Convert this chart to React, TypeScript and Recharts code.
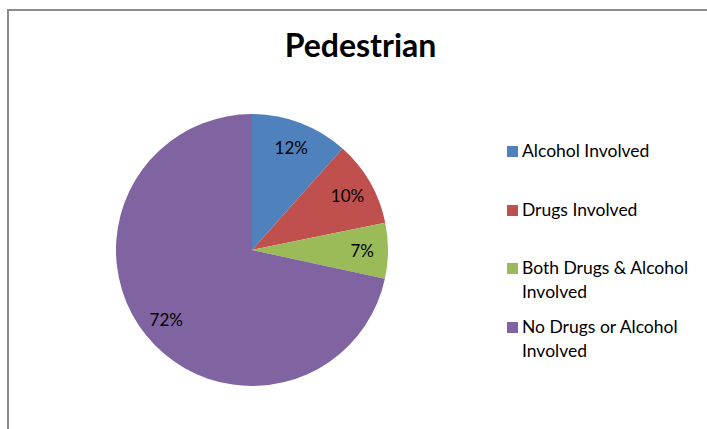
import { Cell, Legend, Pie, PieChart } from "recharts";

const CATEGORIES = [
  "Alcohol Involved",
  "Drugs Involved",
  "Both Drugs & Alcohol Involved",
  "No Drugs or Alcohol Involved",
];
const SHARES = [11.6, 10.2, 6.6, 71.6];
const COLORS = ["#4F81BD", "#C0504D", "#9BBB59", "#8064A2"];
const TITLE = "Pedestrian";

const data = CATEGORIES.map((name, i) => ({ name, value: SHARES[i] }));

const FONT = "Lato, 'Open Sans', sans-serif";
const RAD = Math.PI / 180;

// percentage label placed at ~81% of the radius, like Excel's "best fit" inside labels
function renderLabel(props: any) {
  const { cx, cy, midAngle, outerRadius, percent } = props;
  const r = outerRadius * 0.81;
  const x = cx + r * Math.cos(-midAngle * RAD);
  const y = cy + r * Math.sin(-midAngle * RAD);
  return (
    <text
      x={x}
      y={y}
      textAnchor="middle"
      dominantBaseline="central"
      fill="#000"
      fontSize={17}
      fontFamily={FONT}
    >
      {Math.round(percent * 100)}%
    </text>
  );
}

function LegendBox() {
  return (
    <div style={{ fontFamily: FONT, fontSize: 17.5, color: "#000", width: 190 }}>
      {data.map((d, i) => (
        <div
          key={d.name}
          style={{ position: "relative", height: 58.5, paddingLeft: 15, lineHeight: "24px" }}
        >
          <span
            style={{
              position: "absolute",
              left: 0,
              top: 7,
              width: 11,
              height: 11,
              background: COLORS[i],
            }}
          />
          {d.name}
        </div>
      ))}
    </div>
  );
}

export default function App() {
  return (
    <div style={{ position: "relative", width: 707, height: 429, overflow: "hidden", background: "#fff" }}>
      <style>{"html,body{margin:0;padding:0;overflow:hidden}"}</style>
      {/* chart border, cut off at right and bottom like the source */}
      <div
        style={{
          position: "absolute",
          left: 7,
          top: 9,
          width: 720,
          height: 440,
          borderLeft: "2px solid #8c8c8c",
          borderTop: "2px solid #8c8c8c",
        }}
      />
      <div
        style={{
          position: "absolute",
          left: 0,
          right: 0,
          top: 26,
          textAlign: "center",
          paddingLeft: 14,
          fontFamily: FONT,
          fontWeight: 700,
          fontSize: 32,
          lineHeight: "38px",
          color: "#000",
        }}
      >
        {TITLE}
      </div>
      <div style={{ position: "absolute", left: 0, top: 0 }}>
        <PieChart width={707} height={429}>
          <Pie
            data={data}
            dataKey="value"
            nameKey="name"
            cx={247}
            cy={245}
            outerRadius={136}
            startAngle={90}
            endAngle={-270}
            stroke="none"
            label={renderLabel}
            labelLine={false}
            isAnimationActive={false}
          >
            {data.map((d, i) => (
              <Cell key={d.name} fill={COLORS[i]} />
            ))}
          </Pie>
          <Legend
            layout="vertical"
            content={() => <LegendBox />}
            wrapperStyle={{ left: 507, top: 139, width: 195 }}
          />
        </PieChart>
      </div>
    </div>
  );
}
